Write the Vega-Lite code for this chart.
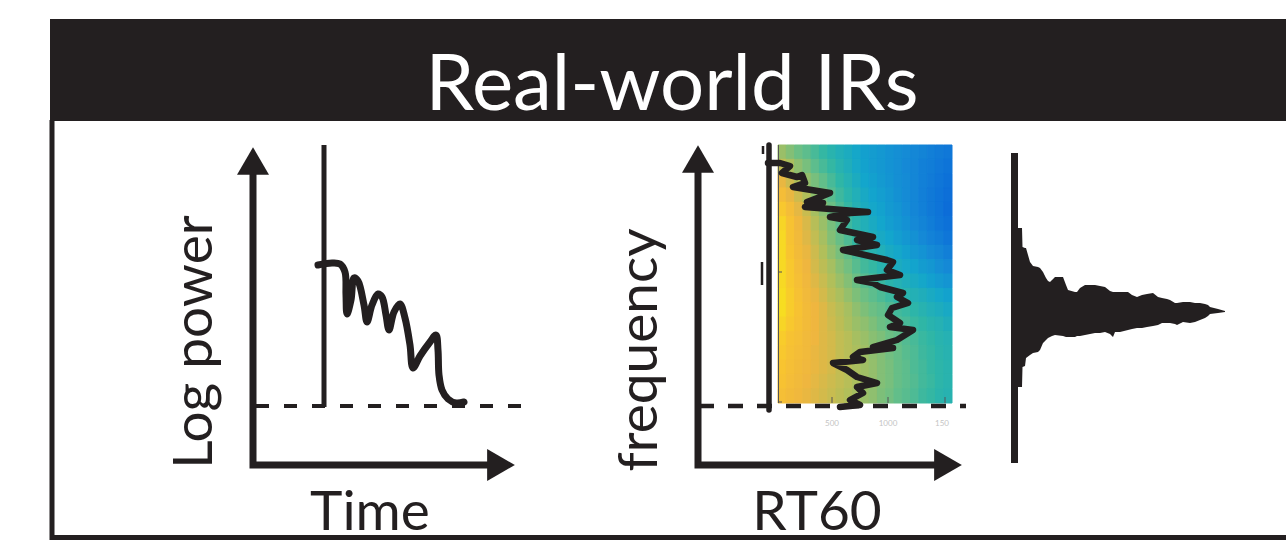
{
"$schema": "https://vega.github.io/schema/vega-lite/v6.json",
"width": 1286, "height": 541,
"autosize": "none",
"padding": 0,
"background": "white",
"config": {"view": {"stroke": null}},
"datasets": {
"header": [{"x": 50, "xe": 1286, "y": 19, "ye": 121}],
"lines": [
{"g":"frame","o":0,"x":52,"y":120},{"g":"frame","o":1,"x":52,"y":537.5},{"g":"frame","o":2,"x":1286,"y":537.5},
{"g":"ax1","o":0,"x":253,"y":168},{"g":"ax1","o":1,"x":253,"y":465},{"g":"ax1","o":2,"x":492,"y":465},
{"g":"ax2","o":0,"x":698,"y":168},{"g":"ax2","o":1,"x":698,"y":465},{"g":"ax2","o":2,"x":937,"y":465},
{"g":"v1","o":0,"x":324,"y":145},{"g":"v1","o":1,"x":324,"y":407},
{"g":"v3","o":0,"x":1014.5,"y":153},{"g":"v3","o":1,"x":1014.5,"y":463},
{"g":"v2","o":0,"x":769,"y":145},{"g":"v2","o":1,"x":769,"y":410},
{"g":"k1","o":0,"x":762,"y":262},{"g":"k1","o":1,"x":762,"y":285},
{"g":"k2","o":0,"x":763,"y":146},{"g":"k2","o":1,"x":763,"y":154},
{"g":"d1","o":0,"x":256,"y":406},{"g":"d1","o":1,"x":521,"y":406},
{"g":"d2","o":0,"x":699,"y":406},{"g":"d2","o":1,"x":966,"y":406},
{"g":"hax","o":0,"x":778.5,"y":145},{"g":"hax","o":1,"x":778.5,"y":403},
{"g":"t1","o":0,"x":832,"y":397},{"g":"t1","o":1,"x":832,"y":403},
{"g":"t2","o":0,"x":888,"y":397},{"g":"t2","o":1,"x":888,"y":403},
{"g":"t3","o":0,"x":945,"y":397},{"g":"t3","o":1,"x":945,"y":403},
{"g":"t4","o":0,"x":778,"y":272},{"g":"t4","o":1,"x":782,"y":272},
{"g":"t5","o":0,"x":778,"y":402},{"g":"t5","o":1,"x":782,"y":402}
],
"decay": [
{"o":0,"x":318,"y":265},{"o":1,"x":332,"y":263},{"o":2,"x":340,"y":264},{"o":3,"x":345,"y":272},{"o":4,"x":346,"y":295},{"o":5,"x":347,"y":314},{"o":6,"x":351,"y":300},{"o":7,"x":354,"y":278},{"o":8,"x":358,"y":281},{"o":9,"x":364,"y":305},{"o":10,"x":367,"y":322},{"o":11,"x":372,"y":305},{"o":12,"x":378,"y":294},{"o":13,"x":382,"y":297},{"o":14,"x":386,"y":315},{"o":15,"x":389,"y":330},{"o":16,"x":394,"y":312},{"o":17,"x":400,"y":304},{"o":18,"x":405,"y":318},{"o":19,"x":410,"y":345},{"o":20,"x":413,"y":368},{"o":21,"x":420,"y":356},{"o":22,"x":430,"y":342},{"o":23,"x":436,"y":335},{"o":24,"x":438,"y":350},{"o":25,"x":439,"y":375},{"o":26,"x":442,"y":390},{"o":27,"x":448,"y":399},{"o":28,"x":456,"y":403},{"o":29,"x":464,"y":402}
],
"jag": [
{"o":0,"x":768,"y":163},{"o":1,"x":780,"y":163},{"o":2,"x":790,"y":166},{"o":3,"x":782,"y":173},{"o":4,"x":797,"y":177},{"o":5,"x":802,"y":175},{"o":6,"x":805,"y":183},{"o":7,"x":793,"y":187},{"o":8,"x":830,"y":193},{"o":9,"x":820,"y":197},{"o":10,"x":807,"y":202},{"o":11,"x":823,"y":203},{"o":12,"x":805,"y":207},{"o":13,"x":868,"y":212},{"o":14,"x":850,"y":213},{"o":15,"x":830,"y":217},{"o":16,"x":847,"y":220},{"o":17,"x":840,"y":230},{"o":18,"x":873,"y":237},{"o":19,"x":857,"y":240},{"o":20,"x":877,"y":245},{"o":21,"x":843,"y":250},{"o":22,"x":887,"y":260},{"o":23,"x":893,"y":262},{"o":24,"x":887,"y":270},{"o":25,"x":900,"y":275},{"o":26,"x":857,"y":280},{"o":27,"x":873,"y":283},{"o":28,"x":880,"y":287},{"o":29,"x":903,"y":293},{"o":30,"x":897,"y":297},{"o":31,"x":908,"y":303},{"o":32,"x":892,"y":308},{"o":33,"x":888,"y":315},{"o":34,"x":900,"y":323},{"o":35,"x":890,"y":327},{"o":36,"x":913,"y":330},{"o":37,"x":897,"y":340},{"o":38,"x":873,"y":347},{"o":39,"x":893,"y":348},{"o":40,"x":860,"y":352},{"o":41,"x":853,"y":357},{"o":42,"x":863,"y":360},{"o":43,"x":833,"y":363},{"o":44,"x":847,"y":370},{"o":45,"x":857,"y":377},{"o":46,"x":877,"y":383},{"o":47,"x":857,"y":387},{"o":48,"x":863,"y":393},{"o":49,"x":850,"y":400},{"o":50,"x":860,"y":405},{"o":51,"x":840,"y":407}
],
"arrows": [
{"x":253,"y":161,"dir":"up"},{"x":501,"y":465,"dir":"right"},
{"x":698,"y":159,"dir":"up"},{"x":948,"y":465,"dir":"right"}
],
"wave": [
{"x":1016,"y":228,"yb":387},{"x":1022,"y":228,"yb":387},{"x":1022.5,"y":247,"yb":367},{"x":1025,"y":248,"yb":366},{"x":1026,"y":248,"yb":358},{"x":1030,"y":262,"yb":355},{"x":1033,"y":266,"yb":353},{"x":1038,"y":267,"yb":352},{"x":1040,"y":268,"yb":350},{"x":1043,"y":272,"yb":343},{"x":1046,"y":278,"yb":340},{"x":1048,"y":281,"yb":338},{"x":1050,"y":282,"yb":337},{"x":1052,"y":280,"yb":336},{"x":1055,"y":277,"yb":335},{"x":1063,"y":277,"yb":336},{"x":1066,"y":285,"yb":337},{"x":1068,"y":290,"yb":337},{"x":1075,"y":292,"yb":337},{"x":1077,"y":292,"yb":336},{"x":1080,"y":288,"yb":336},{"x":1085,"y":285,"yb":335},{"x":1095,"y":285,"yb":333},{"x":1100,"y":286,"yb":333},{"x":1105,"y":287,"yb":332},{"x":1110,"y":291,"yb":334},{"x":1113,"y":292,"yb":337},{"x":1115,"y":292,"yb":332},{"x":1120,"y":292,"yb":332},{"x":1128,"y":292,"yb":330},{"x":1132,"y":295,"yb":329},{"x":1137,"y":297,"yb":328},{"x":1142,"y":295,"yb":328},{"x":1147,"y":294,"yb":327},{"x":1153,"y":293,"yb":326},{"x":1158,"y":297,"yb":325},{"x":1162,"y":298,"yb":323},{"x":1167,"y":299,"yb":323},{"x":1170,"y":300,"yb":323},{"x":1175,"y":303,"yb":324},{"x":1177,"y":303,"yb":325},{"x":1183,"y":302,"yb":322},{"x":1190,"y":302,"yb":323},{"x":1195,"y":303,"yb":322},{"x":1200,"y":303,"yb":320},{"x":1205,"y":304,"yb":318},{"x":1208,"y":305,"yb":316},{"x":1210,"y":307,"yb":314},{"x":1218,"y":309,"yb":313},{"x":1225,"y":311,"yb":312}
],
"texts": [
{"t":"Real-world IRs","x":672,"y":110,"k":"title"},
{"t":"Time","x":370,"y":530,"k":"h"},
{"t":"RT60","x":817,"y":530,"k":"h"},
{"t":"Log power","x":212,"y":342,"k":"v"},
{"t":"frequency","x":657,"y":350,"k":"v"},
{"t":"500","x":832,"y":426,"k":"s"},
{"t":"1000","x":888,"y":426,"k":"s"},
{"t":"150","x":942,"y":426,"k":"s"}
],
"heat": [
{"r":0,"a":0.70,"b":0.66,"c":0.62,"d":0.59,"e":0.55,"f":0.51,"g":0.47,"h":0.43,"i":0.40,"j":0.36,"k":0.32,"l":0.30,"m":0.28,"n":0.25,"o":0.23,"p":0.21,"q":0.19,"s":0.17,"t":0.14,"u":0.12,"v":0.10},
{"r":1,"a":0.77,"b":0.73,"c":0.68,"d":0.64,"e":0.59,"f":0.55,"g":0.51,"h":0.46,"i":0.42,"j":0.37,"k":0.33,"l":0.30,"m":0.28,"n":0.25,"o":0.23,"p":0.20,"q":0.18,"s":0.15,"t":0.13,"u":0.10,"v":0.08},
{"r":2,"a":0.84,"b":0.79,"c":0.74,"d":0.69,"e":0.64,"f":0.60,"g":0.55,"h":0.50,"i":0.45,"j":0.40,"k":0.35,"l":0.32,"m":0.29,"n":0.26,"o":0.23,"p":0.21,"q":0.18,"s":0.15,"t":0.12,"u":0.09,"v":0.06},
{"r":3,"a":0.89,"b":0.84,"c":0.79,"d":0.74,"e":0.68,"f":0.63,"g":0.58,"h":0.53,"i":0.48,"j":0.43,"k":0.38,"l":0.34,"m":0.31,"n":0.28,"o":0.24,"p":0.21,"q":0.18,"s":0.14,"t":0.11,"u":0.08,"v":0.05},
{"r":4,"a":0.94,"b":0.89,"c":0.83,"d":0.78,"e":0.72,"f":0.67,"g":0.62,"h":0.56,"i":0.51,"j":0.45,"k":0.40,"l":0.36,"m":0.33,"n":0.29,"o":0.26,"p":0.22,"q":0.18,"s":0.15,"t":0.11,"u":0.08,"v":0.04},
{"r":5,"a":0.97,"b":0.92,"c":0.86,"d":0.81,"e":0.75,"f":0.70,"g":0.64,"h":0.59,"i":0.53,"j":0.48,"k":0.43,"l":0.39,"m":0.35,"n":0.31,"o":0.28,"p":0.24,"q":0.20,"s":0.17,"t":0.13,"u":0.09,"v":0.06},
{"r":6,"a":0.98,"b":0.92,"c":0.87,"d":0.82,"e":0.77,"f":0.72,"g":0.66,"h":0.61,"i":0.56,"j":0.51,"k":0.46,"l":0.42,"m":0.38,"n":0.35,"o":0.31,"p":0.27,"q":0.24,"s":0.20,"t":0.16,"u":0.13,"v":0.09},
{"r":7,"a":0.98,"b":0.93,"c":0.88,"d":0.84,"e":0.79,"f":0.74,"g":0.69,"h":0.64,"i":0.60,"j":0.55,"k":0.50,"l":0.46,"m":0.43,"n":0.39,"o":0.36,"p":0.32,"q":0.28,"s":0.25,"t":0.21,"u":0.18,"v":0.14},
{"r":8,"a":0.98,"b":0.94,"c":0.89,"d":0.85,"e":0.80,"f":0.76,"g":0.72,"h":0.67,"i":0.63,"j":0.58,"k":0.54,"l":0.51,"m":0.47,"n":0.44,"o":0.40,"p":0.37,"q":0.34,"s":0.30,"t":0.27,"u":0.23,"v":0.20},
{"r":9,"a":0.98,"b":0.94,"c":0.90,"d":0.86,"e":0.82,"f":0.78,"g":0.74,"h":0.70,"i":0.66,"j":0.62,"k":0.58,"l":0.55,"m":0.52,"n":0.48,"o":0.45,"p":0.42,"q":0.39,"s":0.36,"t":0.32,"u":0.29,"v":0.26},
{"r":10,"a":0.99,"b":0.95,"c":0.91,"d":0.87,"e":0.84,"f":0.80,"g":0.76,"h":0.73,"i":0.69,"j":0.65,"k":0.62,"l":0.59,"m":0.56,"n":0.53,"o":0.50,"p":0.47,"q":0.44,"s":0.42,"t":0.39,"u":0.36,"v":0.33},
{"r":11,"a":0.99,"b":0.95,"c":0.92,"d":0.88,"e":0.85,"f":0.82,"g":0.78,"h":0.75,"i":0.72,"j":0.68,"k":0.65,"l":0.62,"m":0.60,"n":0.57,"o":0.54,"p":0.52,"q":0.49,"s":0.46,"t":0.43,"u":0.41,"v":0.38},
{"r":12,"a":0.97,"b":0.94,"c":0.91,"d":0.88,"e":0.85,"f":0.82,"g":0.79,"h":0.76,"i":0.73,"j":0.70,"k":0.68,"l":0.65,"m":0.62,"n":0.60,"o":0.57,"p":0.55,"q":0.52,"s":0.50,"t":0.47,"u":0.45,"v":0.42},
{"r":13,"a":0.95,"b":0.92,"c":0.90,"d":0.87,"e":0.85,"f":0.82,"g":0.80,"h":0.77,"i":0.75,"j":0.72,"k":0.70,"l":0.67,"m":0.65,"n":0.62,"o":0.60,"p":0.57,"q":0.55,"s":0.52,"t":0.50,"u":0.47,"v":0.45},
{"r":14,"a":0.94,"b":0.91,"c":0.89,"d":0.87,"e":0.84,"f":0.82,"g":0.80,"h":0.77,"i":0.75,"j":0.73,"k":0.71,"l":0.68,"m":0.66,"n":0.63,"o":0.61,"p":0.58,"q":0.56,"s":0.53,"t":0.51,"u":0.48,"v":0.46},
{"r":15,"a":0.93,"b":0.90,"c":0.88,"d":0.86,"e":0.84,"f":0.82,"g":0.80,"h":0.77,"i":0.75,"j":0.73,"k":0.71,"l":0.69,"m":0.66,"n":0.64,"o":0.61,"p":0.59,"q":0.56,"s":0.54,"t":0.51,"u":0.49,"v":0.47},
{"r":16,"a":0.92,"b":0.89,"c":0.87,"d":0.85,"e":0.83,"f":0.81,"g":0.79,"h":0.77,"i":0.75,"j":0.73,"k":0.71,"l":0.69,"m":0.66,"n":0.64,"o":0.61,"p":0.59,"q":0.57,"s":0.54,"t":0.52,"u":0.49,"v":0.47},
{"r":17,"a":0.90,"b":0.88,"c":0.86,"d":0.84,"e":0.82,"f":0.80,"g":0.78,"h":0.76,"i":0.74,"j":0.72,"k":0.70,"l":0.68,"m":0.65,"n":0.63,"o":0.60,"p":0.58,"q":0.56,"s":0.53,"t":0.51,"u":0.48,"v":0.46}
]
},
"layer": [
{
"encoding": {
"x": {"field": "x", "type": "quantitative", "scale": {"domain": [0, 1286], "nice": false, "zero": false}, "axis": null},
"y": {"field": "y", "type": "quantitative", "scale": {"domain": [0, 541], "nice": false, "zero": false, "reverse": true}, "axis": null}
},
"layer": [
{"data": {"name": "header"}, "mark": {"type": "rect", "color": "#231f20"},
 "encoding": {"x2": {"field": "xe"}, "y2": {"field": "ye"}}},
{"data": {"name": "lines"}, "transform": [{"filter": {"field": "g", "equal": "frame"}}],
 "mark": {"type": "line", "color": "#231f20", "strokeWidth": 5, "strokeJoin": "miter", "strokeCap": "butt"},
 "encoding": {"order": {"field": "o", "type": "quantitative"}, "detail": {"field": "g"}}},
{"data": {"name": "lines"}, "transform": [{"filter": {"field": "g", "oneOf": ["ax1", "ax2"]}}],
 "mark": {"type": "line", "color": "#231f20", "strokeWidth": 7, "strokeJoin": "miter", "strokeCap": "butt"},
 "encoding": {"order": {"field": "o", "type": "quantitative"}, "detail": {"field": "g"}}},
{"data": {"name": "arrows"},
 "mark": {"type": "point", "filled": true, "size": 1024, "opacity": 1, "color": "#231f20", "strokeWidth": 0},
 "encoding": {"shape": {"field": "dir", "type": "nominal", "scale": {"domain": ["up", "right"], "range": ["triangle-up", "triangle-right"]}, "legend": null}}},
{"data": {"name": "lines"}, "transform": [{"filter": {"field": "g", "equal": "v1"}}],
 "mark": {"type": "line", "color": "#231f20", "strokeWidth": 5, "strokeCap": "butt"},
 "encoding": {"order": {"field": "o", "type": "quantitative"}, "detail": {"field": "g"}}},
{"data": {"name": "lines"}, "transform": [{"filter": {"field": "g", "equal": "v3"}}],
 "mark": {"type": "line", "color": "#231f20", "strokeWidth": 7, "strokeCap": "butt"},
 "encoding": {"order": {"field": "o", "type": "quantitative"}, "detail": {"field": "g"}}},
{"data": {"name": "lines"}, "transform": [{"filter": {"field": "g", "equal": "d1"}}],
 "mark": {"type": "line", "color": "#231f20", "strokeWidth": 4, "strokeDash": [13, 15], "strokeCap": "butt"},
 "encoding": {"order": {"field": "o", "type": "quantitative"}}},
{"data": {"name": "decay"},
 "mark": {"type": "line", "color": "#231f20", "strokeWidth": 7, "strokeCap": "round", "strokeJoin": "round", "interpolate": "catmull-rom"},
 "encoding": {"order": {"field": "o", "type": "quantitative"}}},
{"data": {"name": "wave"},
 "mark": {"type": "area", "color": "#231f20", "opacity": 1, "interpolate": "linear"},
 "encoding": {"y2": {"field": "yb"}}},
{"data": {"name": "texts"}, "transform": [{"filter": {"field": "k", "equal": "title"}}],
 "mark": {"type": "text", "font": "Lato", "fontSize": 78, "color": "white", "align": "center", "baseline": "alphabetic"},
 "encoding": {"text": {"field": "t"}}},
{"data": {"name": "texts"}, "transform": [{"filter": {"field": "k", "equal": "h"}}],
 "mark": {"type": "text", "font": "Lato", "fontSize": 55, "color": "#231f20", "align": "center", "baseline": "alphabetic"},
 "encoding": {"text": {"field": "t"}}},
{"data": {"name": "texts"}, "transform": [{"filter": {"field": "k", "equal": "v"}}],
 "mark": {"type": "text", "font": "Lato", "fontSize": 55, "angle": 270, "color": "#231f20", "align": "center", "baseline": "alphabetic"},
 "encoding": {"text": {"field": "t"}}}
]
},
{
"data": {"name": "heat"},
"transform": [{"fold": ["a","b","c","d","e","f","g","h","i","j","k","l","m","n","o","p","q","s","t","u","v"], "as": ["col", "v"]}],
"mark": {"type": "rect", "strokeWidth": 1},
"encoding": {
"x": {"field": "col", "type": "ordinal", "sort": "ascending", "scale": {"range": [778, 952], "paddingInner": 0, "paddingOuter": 0}, "axis": null},
"y": {"field": "r", "type": "ordinal", "sort": "ascending", "scale": {"range": [145, 403], "paddingInner": 0, "paddingOuter": 0}, "axis": null},
"fill": {"field": "v", "type": "quantitative", "scale": {"domain": [0, 0.2, 0.35, 0.5, 0.62, 0.74, 0.85, 0.93, 1], "range": ["#0a66d9", "#1589d6", "#13a6cc", "#2fb6a6", "#6cbf84", "#b1bf5a", "#efb63f", "#f8c430", "#f7e11f"], "interpolate": "rgb"}, "legend": null},
"stroke": {"field": "v", "type": "quantitative", "scale": {"domain": [0, 0.2, 0.35, 0.5, 0.62, 0.74, 0.85, 0.93, 1], "range": ["#0a66d9", "#1589d6", "#13a6cc", "#2fb6a6", "#6cbf84", "#b1bf5a", "#efb63f", "#f8c430", "#f7e11f"], "interpolate": "rgb"}, "legend": null}
}
},
{
"encoding": {
"x": {"field": "x", "type": "quantitative", "scale": {"domain": [0, 1286], "nice": false, "zero": false}, "axis": null},
"y": {"field": "y", "type": "quantitative", "scale": {"domain": [0, 541], "nice": false, "zero": false, "reverse": true}, "axis": null}
},
"layer": [
{"data": {"name": "lines"}, "transform": [{"filter": {"field": "g", "oneOf": ["hax", "t1", "t2", "t3", "t4", "t5"]}}],
 "mark": {"type": "line", "color": "#555555", "strokeWidth": 1, "strokeCap": "butt"},
 "encoding": {"order": {"field": "o", "type": "quantitative"}, "detail": {"field": "g"}}},
{"data": {"name": "lines"}, "transform": [{"filter": {"field": "g", "equal": "v2"}}],
 "mark": {"type": "line", "color": "#231f20", "strokeWidth": 5.5, "strokeCap": "round"},
 "encoding": {"order": {"field": "o", "type": "quantitative"}, "detail": {"field": "g"}}},
{"data": {"name": "lines"}, "transform": [{"filter": {"field": "g", "oneOf": ["k1", "k2"]}}],
 "mark": {"type": "line", "color": "#231f20", "strokeWidth": 2.5, "strokeCap": "butt"},
 "encoding": {"order": {"field": "o", "type": "quantitative"}, "detail": {"field": "g"}}},
{"data": {"name": "lines"}, "transform": [{"filter": {"field": "g", "equal": "d2"}}],
 "mark": {"type": "line", "color": "#231f20", "strokeWidth": 4.5, "strokeDash": [15, 14], "strokeCap": "butt"},
 "encoding": {"order": {"field": "o", "type": "quantitative"}}},
{"data": {"name": "jag"},
 "mark": {"type": "line", "color": "#231f20", "strokeWidth": 6.5, "strokeCap": "round", "strokeJoin": "round"},
 "encoding": {"order": {"field": "o", "type": "quantitative"}}},
{"data": {"name": "texts"}, "transform": [{"filter": {"field": "k", "equal": "s"}}],
 "mark": {"type": "text", "font": "Lato", "fontSize": 8, "color": "#c4c4c4", "align": "center", "baseline": "alphabetic"},
 "encoding": {"text": {"field": "t"}}}
]
}
],
"resolve": {"scale": {"x": "independent", "y": "independent", "fill": "independent", "stroke": "independent", "shape": "independent"}}
}
